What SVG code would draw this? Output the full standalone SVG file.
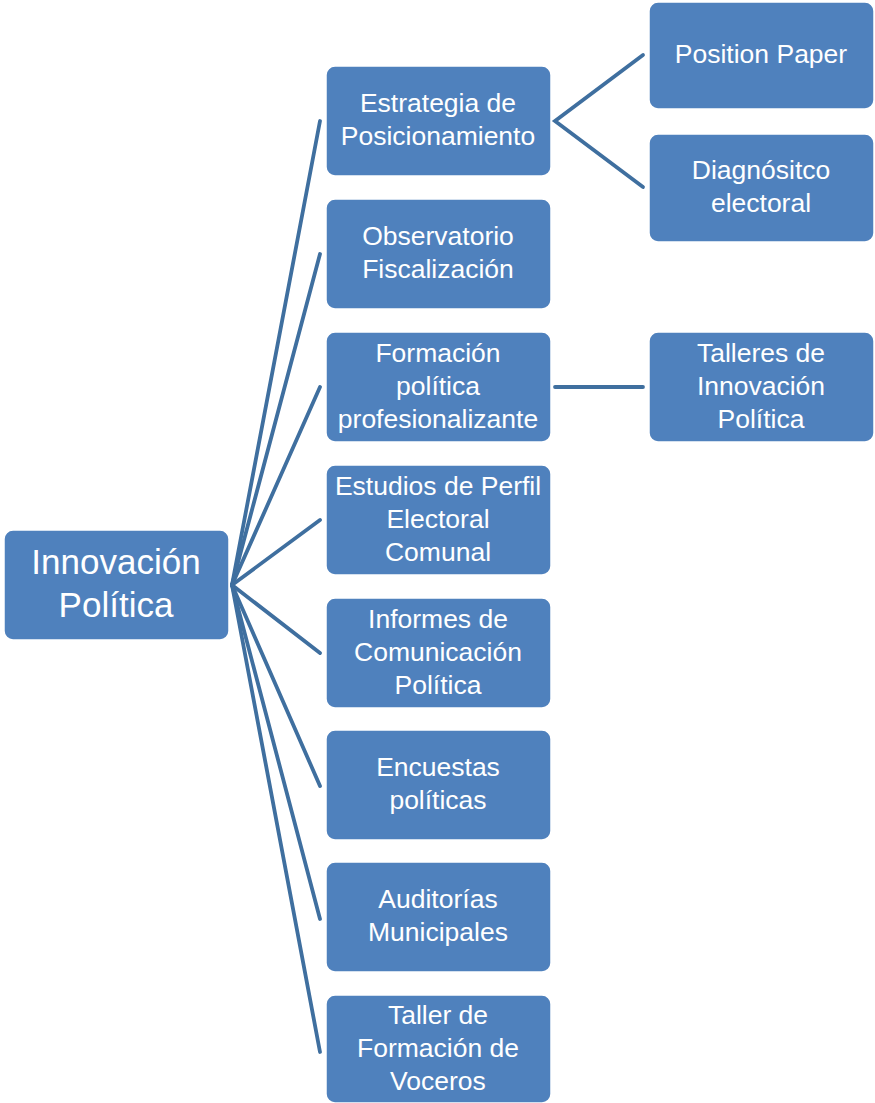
<svg xmlns="http://www.w3.org/2000/svg" width="875" height="1103" viewBox="0 0 875 1103">
<style>
.box{fill:#4F81BD;stroke:#FFFFFF;stroke-width:1.5}
.t{font-family:"Liberation Sans",Arial,sans-serif;font-size:26.5px;fill:#FFFFFF;text-anchor:middle}
.r{font-size:35px}
.c{stroke:#3F6F9F;stroke-width:3.8;fill:none;stroke-linecap:round}
</style>
<rect width="875" height="1103" fill="#FFFFFF"/>
<g id="connectors">
<line class="c" x1="232" y1="585" x2="320" y2="121"/>
<line class="c" x1="232" y1="585" x2="320" y2="254"/>
<line class="c" x1="232" y1="585" x2="320" y2="387"/>
<line class="c" x1="232" y1="585" x2="320" y2="520"/>
<line class="c" x1="232" y1="585" x2="320" y2="653"/>
<line class="c" x1="232" y1="585" x2="320" y2="786"/>
<line class="c" x1="232" y1="585" x2="320" y2="919"/>
<line class="c" x1="232" y1="585" x2="320" y2="1052"/>
<polyline class="c" points="643,55 555,121 643,187"/>
<line class="c" x1="555" y1="387" x2="643" y2="387"/>
</g>
<g id="root">
<rect class="box" x="4" y="530" width="225" height="110" rx="9"/>
<text class="t r" x="116" y="574">Innovación</text>
<text class="t r" x="116" y="617">Política</text>
</g>
<g id="n1">
<rect class="box" x="326" y="66" width="225" height="110" rx="9"/>
<text class="t" x="438" y="112">Estrategia de</text>
<text class="t" x="438" y="145">Posicionamiento</text>
</g>
<g id="n2">
<rect class="box" x="326" y="199" width="225" height="110" rx="9"/>
<text class="t" x="438" y="245">Observatorio</text>
<text class="t" x="438" y="278">Fiscalización</text>
</g>
<g id="n3">
<rect class="box" x="326" y="332" width="225" height="110" rx="9"/>
<text class="t" x="438" y="362">Formación</text>
<text class="t" x="438" y="395">política</text>
<text class="t" x="438" y="428">profesionalizante</text>
</g>
<g id="n4">
<rect class="box" x="326" y="465" width="225" height="110" rx="9"/>
<text class="t" x="438" y="495">Estudios de Perfil</text>
<text class="t" x="438" y="528">Electoral</text>
<text class="t" x="438" y="561">Comunal</text>
</g>
<g id="n5">
<rect class="box" x="326" y="598" width="225" height="110" rx="9"/>
<text class="t" x="438" y="628">Informes de</text>
<text class="t" x="438" y="661">Comunicación</text>
<text class="t" x="438" y="694">Política</text>
</g>
<g id="n6">
<rect class="box" x="326" y="730" width="225" height="110" rx="9"/>
<text class="t" x="438" y="776">Encuestas</text>
<text class="t" x="438" y="809">políticas</text>
</g>
<g id="n7">
<rect class="box" x="326" y="862" width="225" height="110" rx="9"/>
<text class="t" x="438" y="908">Auditorías</text>
<text class="t" x="438" y="941">Municipales</text>
</g>
<g id="n8">
<rect class="box" x="326" y="995" width="225" height="108" rx="9"/>
<text class="t" x="438" y="1024">Taller de</text>
<text class="t" x="438" y="1057">Formación de</text>
<text class="t" x="438" y="1090">Voceros</text>
</g>
<g id="n1a">
<rect class="box" x="649" y="2" width="225" height="107" rx="9"/>
<text class="t" x="761" y="63">Position Paper</text>
</g>
<g id="n1b">
<rect class="box" x="649" y="134" width="225" height="108" rx="9"/>
<text class="t" x="761" y="179">Diagnósitco</text>
<text class="t" x="761" y="212">electoral</text>
</g>
<g id="n3a">
<rect class="box" x="649" y="332" width="225" height="110" rx="9"/>
<text class="t" x="761" y="362">Talleres de</text>
<text class="t" x="761" y="395">Innovación</text>
<text class="t" x="761" y="428">Política</text>
</g>
</svg>
